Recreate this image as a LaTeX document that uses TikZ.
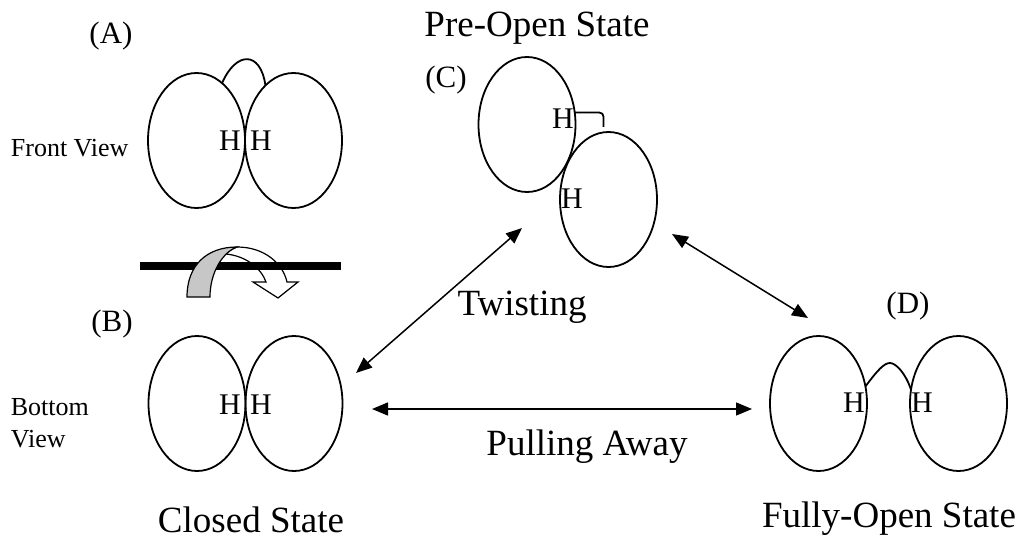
\documentclass[tikz,border=0pt]{standalone}
\usepackage{fontspec}
\setmainfont{Liberation Serif}
\usetikzlibrary{arrows.meta,shapes.geometric,positioning}

\begin{document}
\begin{tikzpicture}[x=1pt,y=-1pt,line width=1.8pt,
                    lobe/.style={draw,ellipse,minimum width=97pt,minimum height=135pt,inner sep=0pt,outer sep=0pt},
                    hatom/.style={anchor=base,inner sep=0pt,font=\fontsize{30}{36}\selectfont},
                    labeltxt/.style={anchor=base,inner sep=0pt,font=\fontsize{31}{37}\selectfont},
                    viewtxt/.style={anchor=base west,inner sep=0pt,font=\fontsize{26}{31}\selectfont},
                    statetxt/.style={anchor=base,inner sep=0pt,font=\fontsize{37}{44}\selectfont},
                    link/.style={{Stealth[length=16pt,width=13pt,inset=0pt]}-{Stealth[length=16pt,width=13pt,inset=0pt]},line width=1.5pt}]
	\useasboundingbox (0,0) rectangle (1023,540);

	% closed state, front and bottom view
	\node[lobe]	(aL)	at (196.5,140.5)	{};
	\node[lobe]	(aR)	[right=0pt of aL]	{};
	\node[lobe]	(bL)	at (197,403.5)		{};
	\node[lobe]	(bR)	[right=0pt of bL]	{};
	% pre-open and fully-open states
	\node[lobe]	(cU)	at (527,124.5)		{};
	\node[lobe]	(cL)	at (608.5,199.5)	{};
	\node[lobe]	(dL)	at (818.5,403.5)	{};
	\node[lobe]	(dR)	[right=43pt of dL]	{};

	\node[hatom]	(aH1)	at (230,151)	{H};
	\node[hatom]	(aH2)	at (261,151)	{H};
	\node[hatom]	(bH1)	at (230,414)	{H};
	\node[hatom]	(bH2)	at (261,414)	{H};
	\node[hatom]	(cH1)	at (563,129)	{H};
	\node[hatom]	(cH2)	at (572,209)	{H};
	\node[hatom]	(dH1)	at (854,412)	{H};
	\node[hatom]	(dH2)	at (922,412)	{H};

	% strands between the lobes
	\draw (aL.66) .. controls +(14,-32) and +(-5,-35) .. (aR.117);
	\draw[rounded corners=4pt] (cU.14) -| ([xshift=-5pt,yshift=5pt]cL.north);
	\coordinate (dtop) at (890,363);
	\draw (dL.20) .. controls +(12,-16) and +(-6,0) .. (dtop)
	              .. controls +(6,0) and +(-5,-16) .. (dR.164);

	% flip symbol between the two views
	\filldraw[fill=white,line width=1.2pt] (226,254) .. controls (230,250) .. (237,247)
		.. controls (265,247) and (283,264) .. (287,282) -- (298,282) -- (278,298)
		-- (253,282) -- (266,282) .. controls (261,268) and (246,256) .. (226,254) -- cycle;
	\draw[line width=8pt] (140,266) -- (341,266);
	\filldraw[fill=black!22,line width=1.2pt] (187,297) .. controls (187,265) and (207,247) .. (237,247)
		.. controls (223,252) and (210,272) .. (210,297) -- cycle;

	% transitions
	\coordinate (tw1) at (356,373);
	\coordinate (tw2) at (522,228);
	\coordinate (un1) at (672,234);
	\coordinate (un2) at (808,318);
	\coordinate (pl1) at (372,409);
	\coordinate (pl2) at (752,409);
	\draw[link] (tw1) -- (tw2);
	\draw[link] (un1) -- (un2);
	\draw[link] (pl1) -- (pl2);

	\node[labeltxt]	(labA)	at (111,44)	{(A)};
	\node[labeltxt]	(labB)	at (112,331)	{(B)};
	\node[labeltxt]	(labC)	at (446,88)	{(C)};
	\node[labeltxt]	(labD)	at (908,313)	{(D)};
	\node[viewtxt]	(front)	at (10,157)	{Front View};
	\node[viewtxt]	(bottom)	at (10,415)	{Bottom};
	\node[viewtxt]	(view)	at (10,447)	{View};
	\node[statetxt]	(preopen)	at (537,37)	{Pre-Open State};
	\node[statetxt]	(twist)	at (522,315)	{Twisting};
	\node[statetxt]	(pull)	at (587,455)	{Pulling Away};
	\node[statetxt]	(closed)	at (251,532)	{Closed State};
	\node[statetxt]	(fullopen)	at (889,527)	{Fully-Open State};
\end{tikzpicture}
\end{document}
